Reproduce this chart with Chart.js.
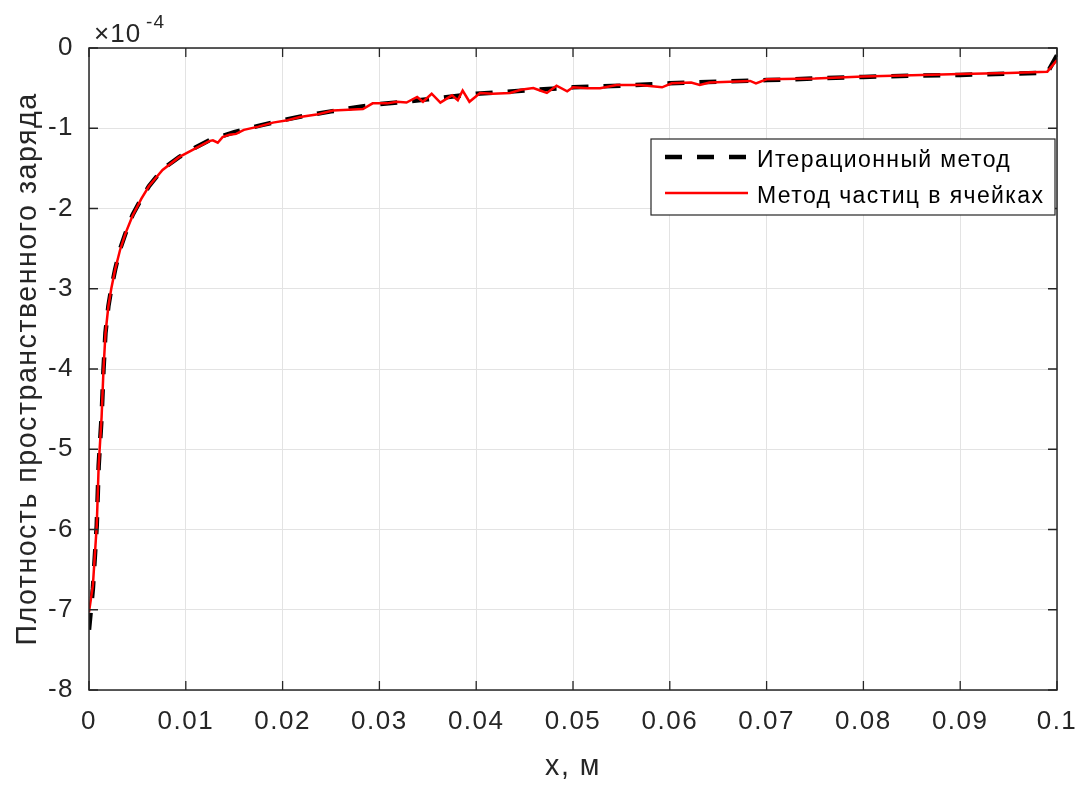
<!DOCTYPE html>
<html>
<head>
<meta charset="utf-8">
<script src="https://cdn.jsdelivr.net/npm/chart.js@4.4.1/dist/chart.umd.min.js"></script>
<style>
  html, body { margin: 0; padding: 0; background: #ffffff; }
  #wrap { width: 1085px; height: 785px; }
</style>
</head>
<body>
<div id="wrap"><canvas id="rhoChart" width="1085" height="785"></canvas></div>
<script>
// ось x, м
var xTicks = [0, 0.01, 0.02, 0.03, 0.04, 0.05, 0.06, 0.07, 0.08, 0.09, 0.1];
// плотность в единицах 1e-4
var yTicks = [0, -1, -2, -3, -4, -5, -6, -7, -8];

// итерационный метод
var xIter = [0, 0.0004, 0.0008, 0.001, 0.0013, 0.0015, 0.0017, 0.002, 0.0023, 0.0027,
             0.0032, 0.0038, 0.0045, 0.0054, 0.0062, 0.0076, 0.0093, 0.011, 0.0126, 0.015,
             0.0175, 0.02, 0.0225, 0.025, 0.0275, 0.03, 0.035, 0.04, 0.045, 0.05,
             0.055, 0.06, 0.065, 0.07, 0.075, 0.08, 0.085, 0.09, 0.095, 0.099, 0.1];
var rhoIter = [-7.25, -6.74, -5.95, -5.2, -4.6, -4.0, -3.55, -3.22, -3.0, -2.76,
               -2.51, -2.3, -2.08, -1.88, -1.72, -1.51, -1.36, -1.24, -1.14, -1.05,
               -0.97, -0.9, -0.84, -0.79, -0.74, -0.70, -0.64, -0.57, -0.53, -0.49,
               -0.47, -0.44, -0.42, -0.40, -0.38, -0.36, -0.345, -0.335, -0.32, -0.31, -0.09];

// метод частиц в ячейках
var xPic = [0, 0.0004, 0.0008, 0.001, 0.0013, 0.0015, 0.0017, 0.002, 0.0023, 0.0027,
            0.0032, 0.0038, 0.0045, 0.0054, 0.0062, 0.0076, 0.0093, 0.011, 0.0124, 0.0128,
            0.0133, 0.0138, 0.0145, 0.0152, 0.016, 0.0175, 0.019, 0.0205, 0.0218, 0.0235,
            0.0252, 0.0268, 0.0283, 0.0293, 0.0308, 0.0318, 0.0328, 0.0339, 0.0345, 0.0354,
            0.0363, 0.0375, 0.0381, 0.0386, 0.0393, 0.0404, 0.0417, 0.0435, 0.0446, 0.0459,
            0.0466, 0.0473, 0.0483, 0.0494, 0.05, 0.0515, 0.0528, 0.0545, 0.0569, 0.0592,
            0.0602, 0.0622, 0.0631, 0.0641, 0.0683, 0.0689, 0.07, 0.075, 0.08, 0.085,
            0.09, 0.095, 0.099, 0.1];
var rhoPic = [-7.03, -6.7, -5.95, -5.2, -4.6, -4.0, -3.56, -3.22, -3.0, -2.76,
              -2.52, -2.3, -2.09, -1.88, -1.72, -1.52, -1.36, -1.25, -1.16, -1.15,
              -1.18, -1.11, -1.08, -1.07, -1.02, -0.98, -0.93, -0.90, -0.86, -0.83,
              -0.78, -0.77, -0.76, -0.69, -0.69, -0.67, -0.68, -0.61, -0.67, -0.57,
              -0.68, -0.59, -0.65, -0.53, -0.67, -0.56, -0.57, -0.56, -0.52, -0.50,
              -0.53, -0.56, -0.47, -0.54, -0.49, -0.50, -0.50, -0.46, -0.46, -0.49,
              -0.44, -0.43, -0.46, -0.43, -0.41, -0.44, -0.39, -0.38, -0.355, -0.34,
              -0.325, -0.31, -0.295, -0.15];

var legendNames = ['Итерационный метод', 'Метод частиц в ячейках'];

var FONT = '"Liberation Sans", Arial, sans-serif';
var AXIS_COLOR = '#262626';

function toPoints(xs, ys){
    return xs.map(function(x, i){ return {x: x, y: ys[i]}; });
}

// чуть разреженный шрифт для подписей осей
var spacing = {
    id: 'spacing',
    beforeLayout: function(chart){ chart.ctx.letterSpacing = '1.5px'; },
    beforeDraw: function(chart){ chart.ctx.letterSpacing = '1.5px'; }
};

// рамка, внутренние засечки, множитель и легенда
var matlabBox = {
    id: 'matlabBox',
    afterDraw: function(chart){
        var ctx = chart.ctx;
        var a = chart.chartArea;
        var sx = chart.scales.x, sy = chart.scales.y;
        ctx.save();
        ctx.strokeStyle = AXIS_COLOR;
        ctx.lineWidth = 1.5;
        ctx.strokeRect(a.left, a.top, a.right - a.left, a.bottom - a.top);

        var t = 9;
        ctx.lineWidth = 1.3;
        ctx.beginPath();
        xTicks.forEach(function(v){
            var px = sx.getPixelForValue(v);
            ctx.moveTo(px, a.bottom); ctx.lineTo(px, a.bottom - t);
            ctx.moveTo(px, a.top); ctx.lineTo(px, a.top + t);
        });
        yTicks.forEach(function(v){
            var py = sy.getPixelForValue(v);
            ctx.moveTo(a.left, py); ctx.lineTo(a.left + t, py);
            ctx.moveTo(a.right, py); ctx.lineTo(a.right - t, py);
        });
        ctx.stroke();

        // ×10^-4
        ctx.fillStyle = AXIS_COLOR;
        ctx.textBaseline = 'alphabetic';
        ctx.textAlign = 'left';
        ctx.letterSpacing = '1px';
        ctx.font = '26px ' + FONT;
        ctx.fillText('\u00d710', a.left + 5, a.top - 6);
        var w = ctx.measureText('\u00d710').width;
        ctx.font = '19px ' + FONT;
        ctx.fillText('-4', a.left + 10 + w, a.top - 20);

        // легенда
        var lx = 651, ly = 139, lw = 404, lh = 76;
        ctx.fillStyle = '#ffffff';
        ctx.fillRect(lx, ly, lw, lh);
        ctx.strokeStyle = AXIS_COLOR;
        ctx.lineWidth = 1.2;
        ctx.strokeRect(lx, ly, lw, lh);
        var rows = [ly + 18, ly + 54];
        chart.data.datasets.forEach(function(ds, i){
            ctx.save();
            ctx.strokeStyle = ds.borderColor;
            ctx.lineWidth = ds.borderWidth;
            ctx.setLineDash(ds.borderDash || []);
            ctx.beginPath();
            ctx.moveTo(lx + 14, rows[i]);
            ctx.lineTo(lx + 97, rows[i]);
            ctx.stroke();
            ctx.restore();
            ctx.fillStyle = '#000000';
            ctx.letterSpacing = '1.4px';
            ctx.font = '23px ' + FONT;
            ctx.textBaseline = 'middle';
            ctx.fillText(ds.label, lx + 106, rows[i] + 4);
        });
        ctx.restore();
    }
};

var ctx = document.getElementById('rhoChart').getContext('2d');
var rhoChart = new Chart(ctx, {
    type: 'line',
    data: {
        datasets: [{
            label: legendNames[0],
            data: toPoints(xIter, rhoIter),
            borderColor: '#000000',
            borderWidth: 4.5,
            borderDash: [17, 15],
            pointRadius: 0,
            tension: 0,
            order: 1
        }, {
            label: legendNames[1],
            data: toPoints(xPic, rhoPic),
            borderColor: '#ff0000',
            borderWidth: 2.5,
            pointRadius: 0,
            tension: 0,
            order: 0
        }]
    },
    options: {
        responsive: false,
        animation: false,
        devicePixelRatio: 1,
        layout: { padding: { left: 0, top: 48, right: 28, bottom: 0 } },
        plugins: {
            legend: { display: false },
            tooltip: { enabled: false }
        },
        scales: {
            x: {
                type: 'linear',
                min: 0,
                max: 0.1,
                afterBuildTicks: function(scale){
                    scale.ticks = xTicks.map(function(v){ return {value: v}; });
                },
                afterFit: function(scale){
                    scale.height = 95;
                    scale.paddingLeft = 0;
                    scale.paddingRight = 0;
                },
                grid: { color: '#e3e3e3', lineWidth: 1, drawTicks: false },
                border: { display: false },
                ticks: {
                    padding: 16,
                    color: AXIS_COLOR,
                    font: { family: FONT, size: 26 },
                    maxRotation: 0,
                    callback: function(v){ return String(parseFloat(v.toFixed(2))); }
                },
                title: {
                    display: true,
                    text: 'x, м',
                    color: AXIS_COLOR,
                    font: { family: FONT, size: 28.6 },
                    padding: { top: 0, bottom: 1 }
                }
            },
            y: {
                type: 'linear',
                min: -8,
                max: 0,
                afterBuildTicks: function(scale){
                    scale.ticks = yTicks.map(function(v){ return {value: v}; });
                },
                afterFit: function(scale){
                    scale.width = 89;
                    scale.paddingTop = 0;
                    scale.paddingBottom = 0;
                },
                grid: { color: '#e3e3e3', lineWidth: 1, drawTicks: false },
                border: { display: false },
                ticks: {
                    padding: 15,
                    color: AXIS_COLOR,
                    font: { family: FONT, size: 26 },
                    callback: function(v){ return String(v); }
                },
                title: {
                    display: true,
                    text: 'Плотность пространственного заряда',
                    color: AXIS_COLOR,
                    font: { family: FONT, size: 28.6 },
                    padding: { top: 11, bottom: 0 }
                }
            }
        }
    },
    plugins: [spacing, matlabBox]
});
</script>
</body>
</html>
